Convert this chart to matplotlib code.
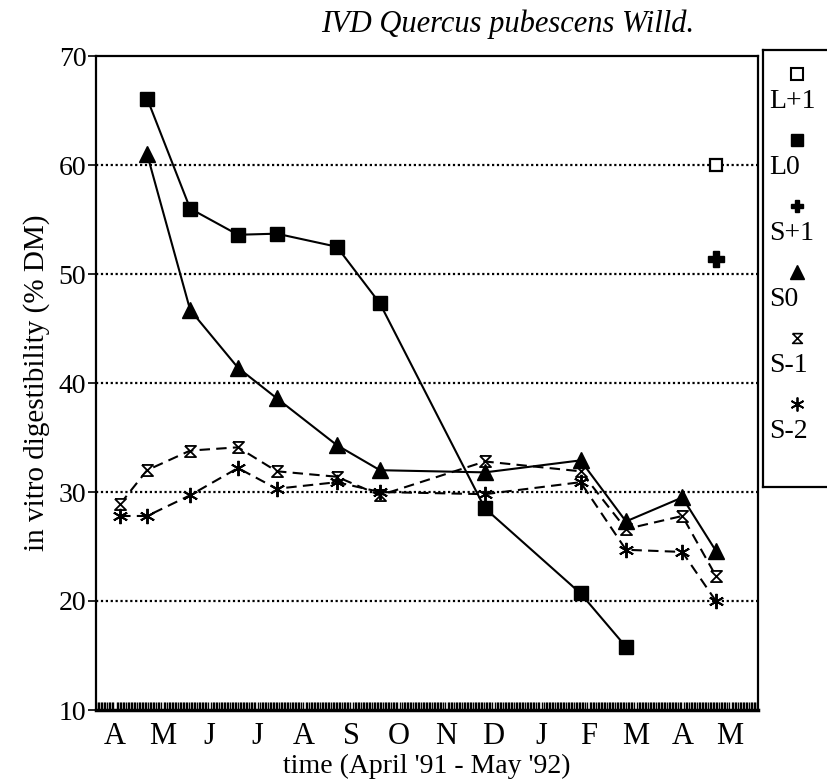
import numpy as np
import matplotlib
matplotlib.use("Agg")
from matplotlib import pyplot as plt
from matplotlib.ticker import MultipleLocator

# sampling dates, in months after the April '91 label
dates = [0.11, 0.68, 1.59, 2.60, 3.42, 4.69, 5.60, 7.82, 9.84, 10.80, 11.99, 12.70]

months = ["A", "M", "J", "J", "A", "S", "O", "N", "D", "J", "F", "M", "A", "M"]

l_plus1 = [60.0]
l0 = [66.1, 56.0, 53.6, 53.7, 52.5, 47.3, 28.5, 20.7, 15.8]
s_plus1 = [51.4]
s0 = [61.0, 46.7, 41.4, 38.6, 34.3, 32.0, 31.8, 32.9, 27.3, 29.5, 24.6]
s_minus1 = [28.9, 32.0, 33.8, 34.1, 31.9, 31.4, 29.7, 32.8, 31.9, 26.6, 27.8, 22.3]
s_minus2 = [27.8, 27.8, 29.7, 32.2, 30.3, 30.9, 30.0, 29.8, 30.9, 24.7, 24.5, 20.0]

plt.rcParams["font.family"] = ["Liberation Serif", "DejaVu Serif"]

hourglass = [(-1, 1), (1, 1), (-1, -1), (1, -1), (-1, 1)]
asterisk = (6, 2, 0)

W, H = 828, 784
fig = plt.figure(figsize=(W / 100, H / 100), dpi=100)
ax = fig.add_axes([96 / W, 1 - 710 / H, (758 - 96) / W, (710 - 56) / H])

# dotted reference lines
for v in [20, 30, 40, 50, 60]:
    ax.axhline(v, color="black", lw=1.6, ls=(0, (1, 1.2)), zorder=1)

ax.plot(dates[1:10], l0, "-", color="black", lw=1.5, marker="s",
        ms=10, mfc="black", mec="black", zorder=4)
ax.plot(dates[1:], s0, "-", color="black", lw=1.5, marker="^",
        ms=11, mfc="black", mec="black", zorder=4)
ax.plot(dates, s_minus1, "--", color="black", lw=1.5, dashes=(5, 3),
        marker=hourglass, ms=8, mfc="white", mec="black", mew=1.3, zorder=3)
ax.plot(dates, s_minus2, "--", color="black", lw=1.5, dashes=(5, 3),
        marker=asterisk, ms=11, mec="black", mew=1.4, zorder=3)
ax.plot(dates[-1:], l_plus1, "s", ms=9, mfc="white", mec="black", mew=1.6,
        zorder=4)
ax.plot(dates[-1:], s_plus1, "P", ms=11, mfc="black", mec="black",
        zorder=4)

ax.set_xlim(-0.40, 13.59)
ax.set_ylim(10, 70)
ax.set_xticks(range(len(months)))
ax.set_xticklabels(months, fontsize=22)
ax.xaxis.set_minor_locator(MultipleLocator(1 / 30))
ax.tick_params(axis="x", which="major", length=0, pad=9)
ax.tick_params(axis="x", which="minor", length=6, width=1.0,
               direction="in")
ax.set_yticks([10, 20, 30, 40, 50, 60, 70])
ax.tick_params(axis="y", labelsize=20, length=6, width=1.2, pad=1)
for s in ax.spines.values():
    s.set_linewidth(1.6)
ax.spines["bottom"].set_linewidth(2.5)

ax.set_xlabel("time (April '91 - May '92)", fontsize=20, labelpad=2)
ax.set_ylabel("in vitro digestibility (% DM)", fontsize=21, labelpad=6)
fig.text(508 / W, 1 - 24 / H, "IVD Quercus pubescens Willd.",
         fontsize=22, style="italic", ha="center", va="center")

# legend box, clipped by the right edge of the figure
leg = fig.add_axes([763 / W, 1 - 487 / H, 90 / W, (487 - 50) / H])
leg.set_xlim(763, 853)
leg.set_ylim(487, 50)
leg.set_xticks([])
leg.set_yticks([])
for s in leg.spines.values():
    s.set_linewidth(1.6)

keys = [("L+1", dict(marker="s", ms=8, mfc="white", mec="black", mew=1.5)),
        ("L0", dict(marker="s", ms=8, mfc="black", mec="black")),
        ("S+1", dict(marker="P", ms=9, mfc="black", mec="black")),
        ("S0", dict(marker="^", ms=10, mfc="black", mec="black")),
        ("S-1", dict(marker=hourglass, ms=7, mfc="white", mec="black",
                     mew=1.2)),
        ("S-2", dict(marker=asterisk, ms=10, mec="black", mew=1.3))]
for i, (name, style) in enumerate(keys):
    y = 74 + i * 66
    leg.plot([797], [y], ls="none", color="black", **style)
    leg.text(769, y + 28, name, fontsize=20, ha="left", va="center")

fig.savefig("out.png", dpi=100)
